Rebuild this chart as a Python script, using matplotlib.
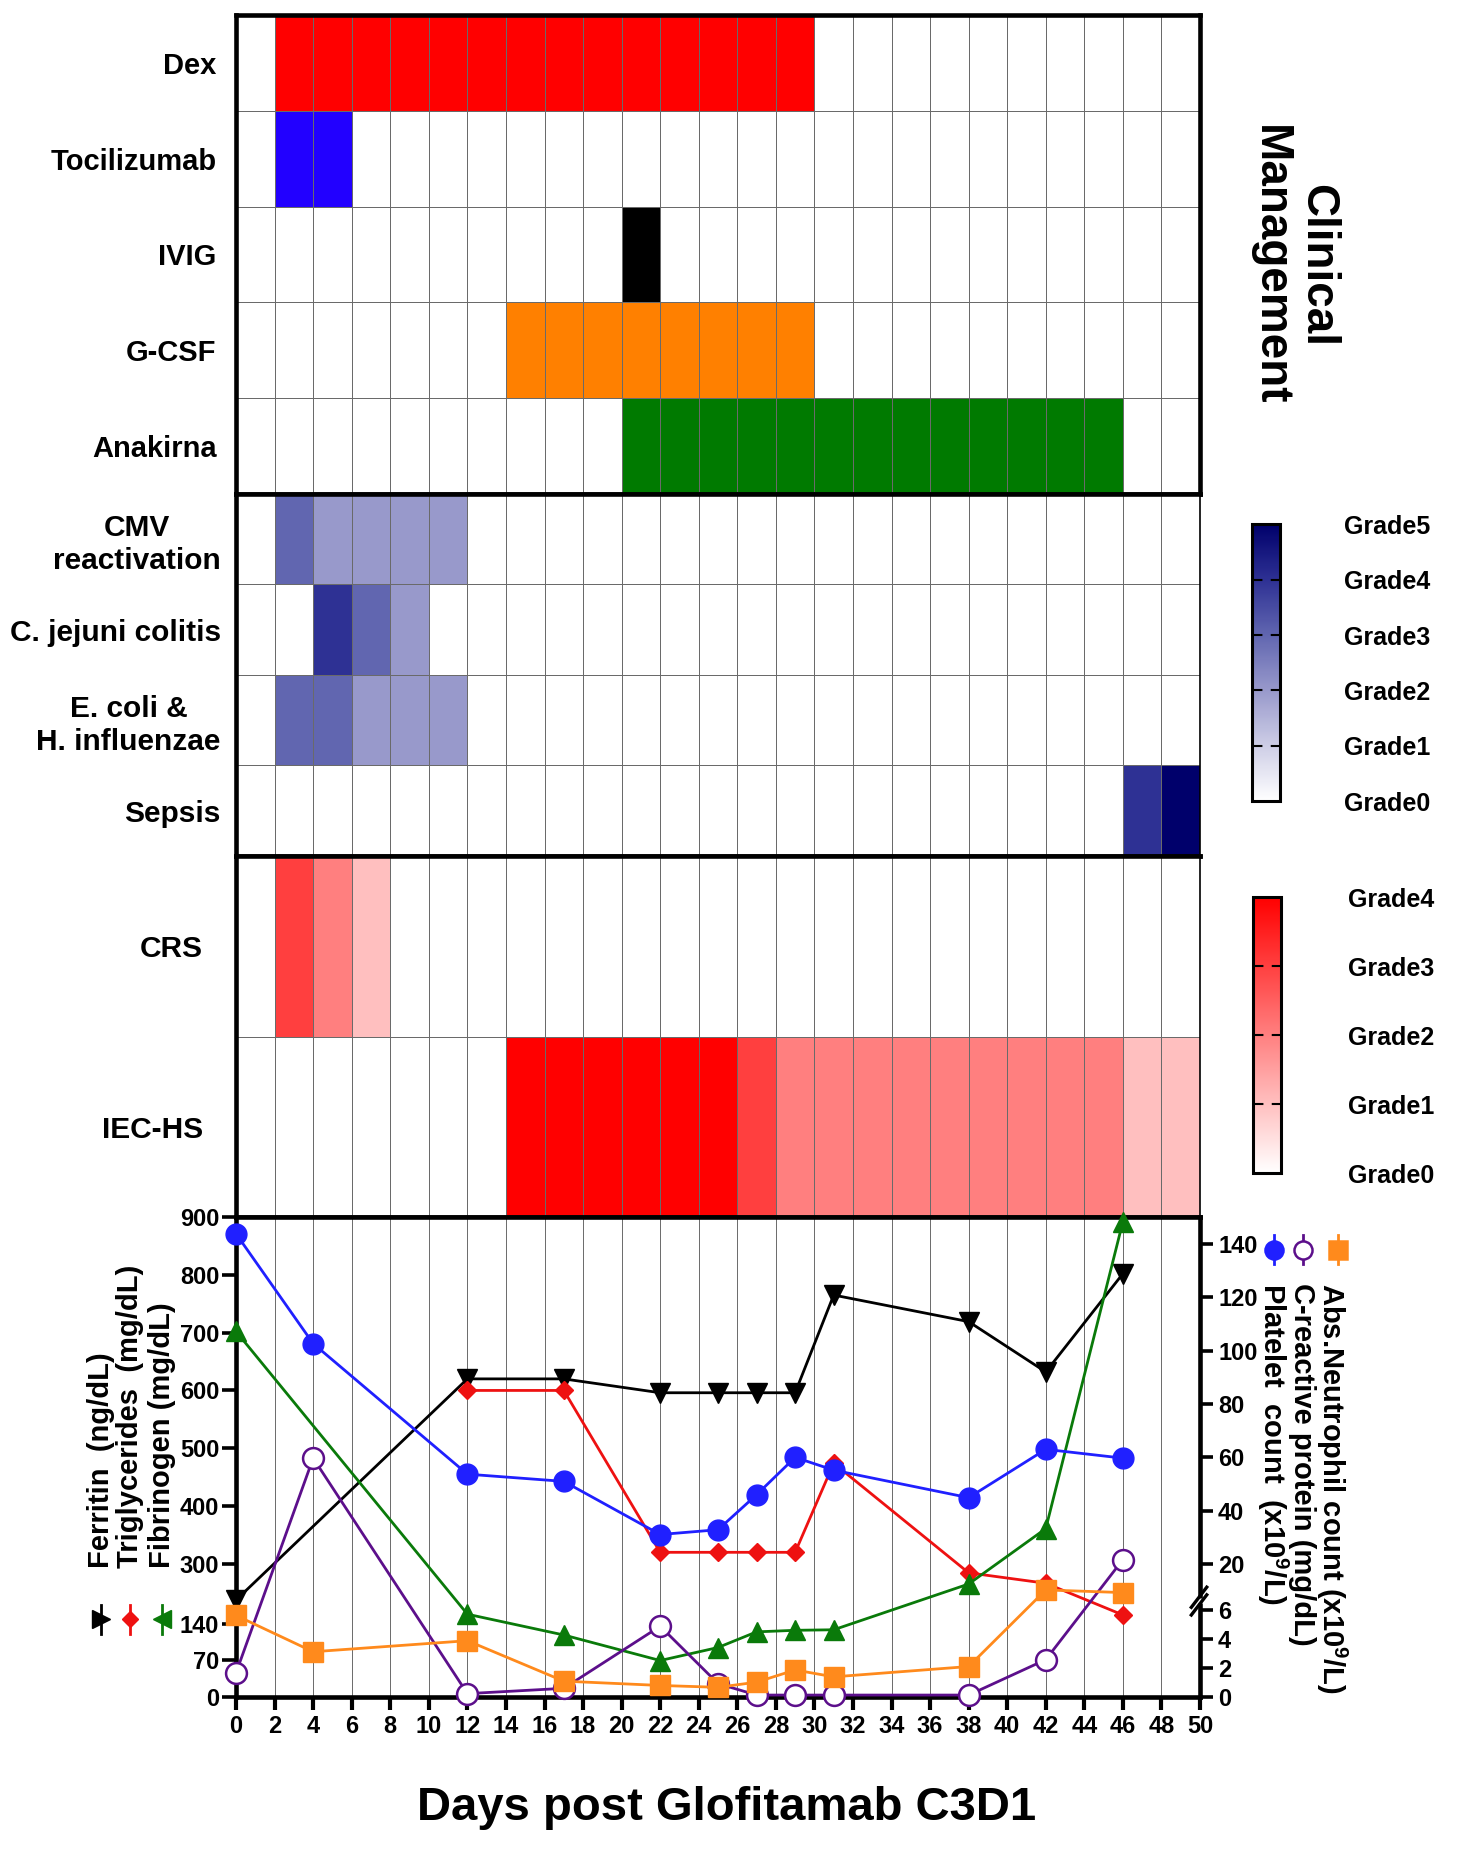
import numpy as np
import matplotlib
matplotlib.use("Agg")
import matplotlib.pyplot as plt
from matplotlib.colors import ListedColormap, LinearSegmentedColormap, Normalize
from matplotlib.cm import ScalarMappable
from matplotlib.lines import Line2D
from matplotlib.ticker import NullLocator

plt.rcParams['font.family'] = ['Liberation Sans', 'DejaVu Sans']
plt.rcParams['font.weight'] = 'bold'
plt.rcParams['mathtext.fontset'] = 'custom'
plt.rcParams['mathtext.rm'] = 'Liberation Sans:bold'
plt.rcParams['mathtext.it'] = 'Liberation Sans:bold'
plt.rcParams['mathtext.bf'] = 'Liberation Sans:bold'

# ---------------------------------------------------------------------------
# Data
# ---------------------------------------------------------------------------
day_edges = np.arange(0, 52, 2)          # 25 two-day bins, day 0..50

drugs = ["Dex", "Tocilizumab", "IVIG", "G-CSF", "Anakirna"]
drug_start = [2, 2, 20, 14, 20]
drug_end = [30, 6, 22, 30, 46]
drug_colors = ["#ff0000", "#2200ff", "#000000", "#ff8000", "#007a00"]

infections = ["CMV\nreactivation", "C. jejuni colitis", "E. coli &\nH. influenzae", "Sepsis"]
cmv_grade    = [0, 3, 2, 2, 2, 2, 0, 0, 0, 0, 0, 0, 0, 0, 0, 0, 0, 0, 0, 0, 0, 0, 0, 0, 0]
jejuni_grade = [0, 0, 4, 3, 2, 0, 0, 0, 0, 0, 0, 0, 0, 0, 0, 0, 0, 0, 0, 0, 0, 0, 0, 0, 0]
ecoli_grade  = [0, 3, 3, 2, 2, 2, 0, 0, 0, 0, 0, 0, 0, 0, 0, 0, 0, 0, 0, 0, 0, 0, 0, 0, 0]
sepsis_grade = [0, 0, 0, 0, 0, 0, 0, 0, 0, 0, 0, 0, 0, 0, 0, 0, 0, 0, 0, 0, 0, 0, 0, 4, 5]

toxicities = ["CRS", "IEC-HS"]
crs_grade   = [0, 3, 2, 1, 0, 0, 0, 0, 0, 0, 0, 0, 0, 0, 0, 0, 0, 0, 0, 0, 0, 0, 0, 0, 0]
iechs_grade = [0, 0, 0, 0, 0, 0, 0, 4, 4, 4, 4, 4, 4, 3, 2, 2, 2, 2, 2, 2, 2, 2, 2, 1, 1]

# left axis series
days_ferritin = [0, 12, 17, 22, 25, 27, 29, 31, 38, 42, 46]
ferritin = [203, 620, 620, 596, 596, 596, 596, 765, 719, 632, 802]
days_tg = [12, 17, 22, 25, 27, 29, 31, 38, 42, 46]
triglycerides = [600, 600, 320, 320, 320, 320, 474, 276, 248, 163]
days_fib = [0, 12, 17, 22, 25, 27, 29, 31, 38, 42, 46]
fibrinogen = [702, 165, 118, 69, 94, 124, 127, 128, 246, 361, 892]

# right axis series
days_lab = [0, 4, 12, 17, 22, 25, 27, 29, 31, 38, 42, 46]
platelet = [143.7, 102.6, 53.7, 51.0, 31.1, 32.9, 46.0, 60.0, 55.2, 44.9, 63.0, 59.7]
crp = [1.65, 59.7, 0.2, 0.57, 4.9, 0.9, 0.1, 0.1, 0.1, 0.1, 2.57, 21.7]
anc = [5.65, 3.12, 3.89, 1.07, 0.77, 0.64, 1.0, 1.85, 1.37, 2.09, 12.2, 11.4]

left_ticks = [0, 70, 140, 300, 400, 500, 600, 700, 800, 900]
right_ticks = [0, 2, 4, 6, 20, 40, 60, 80, 100, 120, 140]

# ---------------------------------------------------------------------------
# Figure / axes
# ---------------------------------------------------------------------------
fig = plt.figure(figsize=(14.67, 18.54), dpi=100)
L, W = 0.1609, 0.6571
ax_drug = fig.add_axes([L, 0.73355, W, 0.25836])
ax_inf = fig.add_axes([L, 0.53830, W, 0.19525])
ax_tox = fig.add_axes([L, 0.34358, W, 0.19471])
ax = fig.add_axes([L, 0.08495, W, 0.25863])

THICK = 3.3
GRID = "#6a6a6a"

inf_cmap = LinearSegmentedColormap.from_list(
    "inf", [(0, "white"), (0.2, "#cdcde6"), (0.4, "#9899cb"),
            (0.6, "#6166b0"), (0.8, "#2e3194"), (1.0, "#00006b")])
tox_cmap = LinearSegmentedColormap.from_list("tox", ["white", "#ff0000"])
inf_norm = Normalize(0, 5)
tox_norm = Normalize(0, 4)


def heat(axh, mat, cmap, norm, labels, pad, size):
    axh.pcolormesh(day_edges, np.arange(len(labels) + 1), mat, cmap=cmap,
                   norm=norm, edgecolors=GRID, linewidth=0.6)
    axh.set_xlim(0, 50)
    axh.set_ylim(len(labels), 0)
    axh.set_xticks([])
    axh.set_yticks(np.arange(len(labels)) + 0.5)
    axh.set_yticklabels(labels, fontsize=size)
    axh.tick_params(axis="y", length=0, pad=pad)
    for t in axh.get_yticklabels():
        t.set_multialignment("center")


# clinical management block
codes = np.zeros((len(drugs), len(day_edges) - 1))
for i, (s, e) in enumerate(zip(drug_start, drug_end)):
    codes[i, s // 2:e // 2] = i + 1
drug_cmap = ListedColormap(["white"] + drug_colors)
heat(ax_drug, codes, drug_cmap, Normalize(-0.5, len(drugs) + 0.5), drugs, 14, 21)
for sp in ax_drug.spines.values():
    sp.set_linewidth(THICK)

# infection block
heat(ax_inf, np.array([cmv_grade, jejuni_grade, ecoli_grade, sepsis_grade]),
     inf_cmap, inf_norm, infections, 11, 21.5)
# toxicity block
heat(ax_tox, np.array([crs_grade, iechs_grade]), tox_cmap, tox_norm,
     toxicities, 24, 21.5)
for a in (ax_inf, ax_tox):
    for side in ("left", "top", "bottom"):
        a.spines[side].set_linewidth(THICK)
    a.spines["right"].set_linewidth(1.2)

fig.text(0.882, 0.857, "Clinical\nManagement", rotation=-90, ha="center",
         va="center", fontsize=33, linespacing=1.1, multialignment="center")

# colour bars
for rect, cmap, norm, pad in (([0.8535, 0.56796, 0.01909, 0.14914], inf_cmap, inf_norm, 46),
                              ([0.8541, 0.36731, 0.01909, 0.14887], tox_cmap, tox_norm, 48)):
    cax = fig.add_axes(rect)
    cb = fig.colorbar(ScalarMappable(norm=norm, cmap=cmap), cax=cax)
    top = int(norm.vmax)
    cb.set_ticks(range(top + 1))
    cb.set_ticklabels([f"Grade{g}" for g in range(top + 1)])
    cax.tick_params(length=0, pad=pad, labelsize=18)
    cb.outline.set_linewidth(2.2)
    for g in range(1, top):
        cax.axhline(g, color="black", lw=1.5, ls=(0, (5, 4)))

# ---------------------------------------------------------------------------
# Lab values with broken (two-segment) axes
# ---------------------------------------------------------------------------
left_kv = [-900, 0, 140, 300, 900, 1800]
left_kf = [-0.978, 0, 0.1522, 0.2766, 1.0, 2.085]
right_kv = [-150, 0, 6, 20, 150, 300]
right_kf = [-4.49, 0, 0.1795, 0.2760, 1.0, 1.835]


def seg_scale(kv, kf):
    return (lambda v: np.interp(v, kv, kf), lambda f: np.interp(f, kf, kv))


ax.set_yscale("function", functions=seg_scale(left_kv, left_kf))
ax.set_ylim(0, 900)
ax.set_xlim(0, 50)
ax2 = ax.twinx()
ax2.set_yscale("function", functions=seg_scale(right_kv, right_kf))
ax2.set_ylim(0, 150)

ax.set_xticks(np.arange(0, 51, 2))
ax.grid(axis="x", color=GRID, lw=0.7)
ax.set_axisbelow(True)
ax.set_yticks(left_ticks)
ax2.set_yticks(right_ticks)
for a in (ax, ax2):
    a.yaxis.set_minor_locator(NullLocator())

lw = 2.0
ax.plot(days_ferritin, ferritin, color="black", marker="v", ms=15, lw=lw,
        clip_on=False, zorder=4)
ax.plot(days_tg, triglycerides, color="#ee1111", marker="D", ms=9.5, lw=lw,
        clip_on=False, zorder=4)
ax.plot(days_fib, fibrinogen, color="#0a7a0a", marker="^", ms=15, lw=lw,
        clip_on=False, zorder=4)
ax2.plot(days_lab, platelet, color="#2020ff", marker="o", ms=15, lw=lw,
         clip_on=False, zorder=4)
ax2.plot(days_lab, crp, color="#5c0f8b", marker="o", ms=15, lw=lw,
         markerfacecolor="white", markeredgewidth=1.8, clip_on=False, zorder=4)
ax2.plot(days_lab, anc, color="#ff8a1c", marker="s", ms=14, lw=lw,
         clip_on=False, zorder=4)

for side in ("left", "bottom", "top"):
    ax.spines[side].set_linewidth(THICK)
ax.spines["right"].set_visible(False)
for side in ("left", "bottom", "top"):
    ax2.spines[side].set_visible(False)
ax2.spines["right"].set_linewidth(THICK)

ax.tick_params(axis="y", length=10, width=2.6, labelsize=17, pad=2)
ax.tick_params(axis="x", length=9, width=3, labelsize=17, pad=4)
ax2.tick_params(axis="y", length=9, width=2.6, labelsize=17, pad=4)

# break marks on the right axis
ax2.plot([1, 1], [0.194, 0.205], transform=ax2.transAxes, color="white",
         lw=5, clip_on=False, zorder=5, solid_capstyle="butt")
for off in (-0.008, 0.008):
    ax2.plot([0.991, 1.007], [0.178 + off, 0.22 + off], transform=ax2.transAxes,
             color="black", lw=2.4, clip_on=False, zorder=6)

# axis titles drawn as rotated legends
left_labels = ["Ferritin  (ng/dL)", "Triglycerides  (mg/dL)", "Fibrinogen (mg/dL)"]
left_x = [0.0688, 0.0886, 0.1104]
left_style = [("black", ">", 13), ("#ee1111", "D", 8), ("#0a7a0a", "<", 13)]
for txt, x, (c, m, ms) in zip(left_labels, left_x, left_style):
    fig.text(x, 0.154, txt, rotation=90, rotation_mode="anchor", ha="left",
             va="center", fontsize=21)
    fig.add_artist(Line2D([x, x], [0.1185, 0.1345], color=c, lw=2))
    fig.add_artist(Line2D([x], [0.1265], marker=m, ms=ms, color=c, lw=0))

right_labels = ["Platelet  count  (x10$^9$/L)", "C-reactive protein (mg/dL)",
                "Abs.Neutrophil count (x10$^9$/L)"]
right_x = [0.8677, 0.8875, 0.908]
right_style = [("#2020ff", "o", "#2020ff"), ("#5c0f8b", "o", "white"),
               ("#ff8a1c", "s", "#ff8a1c")]
marker_x = [0.8684, 0.8882, 0.9121]
for txt, x, mx, (c, m, fc) in zip(right_labels, right_x, marker_x, right_style):
    fig.text(x, 0.308, txt, rotation=-90, rotation_mode="anchor", ha="left",
             va="center", fontsize=21)
    fig.add_artist(Line2D([mx, mx], [0.318, 0.334], color=c, lw=2))
    fig.add_artist(Line2D([mx], [0.326], marker=m, ms=13, color=c,
                          markerfacecolor=fc, markeredgewidth=1.8, lw=0))

fig.text(0.495, 0.0248, "Days post Glofitamab C3D1", ha="center", va="center",
         fontsize=34)

fig.savefig("out.png", dpi=100, facecolor="white")
